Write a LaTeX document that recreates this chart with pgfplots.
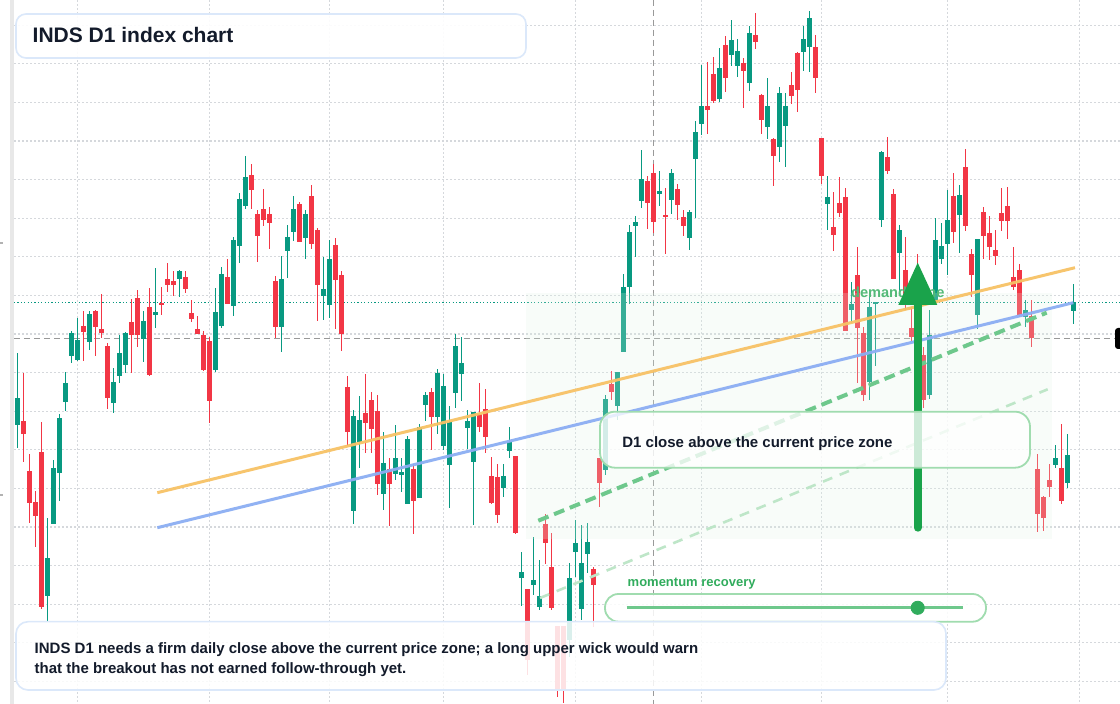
\documentclass[border=0pt]{standalone}
\usepackage{fontspec}
\setmainfont{Liberation Sans}
\usepackage{pgfplots}
\usepackage{pgfplotstable}
\pgfplotsset{compat=1.18}

\definecolor{up}{HTML}{089981}
\definecolor{dn}{HTML}{F23645}
\definecolor{gridc}{HTML}{D5D8DC}
\definecolor{ink}{HTML}{131B2B}
\definecolor{trendo}{HTML}{F7C266}
\definecolor{trendb}{HTML}{8CAEF3}
\definecolor{dashg}{HTML}{6EC88C}
\definecolor{dashl}{HTML}{BEE6C8}
\definecolor{arrowg}{HTML}{1AA34B}
\definecolor{boxg}{HTML}{A0DCAF}
\definecolor{boxb}{HTML}{DBE8FA}
\definecolor{zone}{HTML}{E1F5E8}

% candle tables, y read in pixels from the top (top/bot = body, hi/lo = wick)
\pgfplotstableread{
i top bot hi lo
0 398 424.7 353.3 447.7
5 558.3 595.7 518.3 621.7
6 468.3 524.3 460 524.3
7 418.3 472.7 414 500.7
8 383 401.7 372 410.7
9 332.7 355.7 331.3 362.7
10 340 360 318 361
12 314 341.7 310.7 350
16 382 403.3 368 412.7
17 353.3 375.7 335 383.3
18 332.7 364.7 332 373.3
21 321 338.7 311 362
23 312 314.7 268 328.3
27 270.7 278.7 270 296.7
33 312 369.7 288 372.3
34 274 325.7 266.7 328.3
36 239.7 305.7 236.7 315.7
37 199 245.7 192.7 262.7
38 177 205.7 155.7 208.7
44 279 326.7 256 351.7
45 237 250.7 225 277.7
46 209 231.7 196 240.7
48 214 237.7 210 258.7
51 289 295.7 256.7 319.7
52 259 304.7 239.7 317.7
56 416 511 410 524
57 420 441.7 396 467.7
61 463 493.7 432 509.7
63 458 474 425 479.7
64 472 474.7 458 491.7
65 439 503.7 436 503.7
67 427 497.7 424 497.7
68 395 404.7 392 420.7
70 373 416.7 369 433.7
71 386 445.7 374 449.7
72 422 464.7 406 507.7
73 346 392.7 334 407.7
74 363 373.7 337 400.7
75 421 427.7 410 448.7
76 412 461.7 412 524.7
81 476 487.7 463.7 496.7
82 442 450.7 427 457.7
84 571.7 577.7 551.7 605.7
86 579.7 584.7 536.7 594.7
87 595.7 606.7 559.7 609.7
92 577.7 640 562.7 656.7
93 543.3 551.7 520 576.7
94 562.7 608.7 524.7 619.7
95 542 553.7 522.7 572.7
98 399 469.7 395 474.7
100 372 406 372 420
101 287.3 351.7 274 351.7
102 232.3 287.3 225.3 304.3
103 222.3 225.7 216.3 256.7
104 179 200.7 150 207.7
107 191 193.7 171 205.7
109 173 199.7 169 213.7
112 212 237.7 210 249.7
113 132 158.7 121 217.7
114 106 123.7 65 134.7
117 68 98.7 48 101.7
119 40 54.7 20 65.7
120 51 65.7 39 76.7
122 33 82.7 26 90.7
125 106 126.7 78 138.7
127 93 146.7 87 161.7
128 106 125.7 93 166.7
131 39 51.7 26 70.7
132 18 46.7 11 71.7
135 197 203.7 176 229.7
139 303.7 309.7 282 322.7
142 307 381.7 297 399.7
143 301.7 303.5 301.7 365.7
144 152 219.7 151 226.7
147 230 252.7 225 294
152 335 394.7 310 398.7
153 240 301.7 218 301.7
154 246 258.7 223 263.7
155 220 243.7 190 274.7
157 195 214.7 185 252.7
160 239 314.7 239 328.7
168 310 316.7 300 326.7
173 458 464.7 445 467.7
175 455 482.7 434 487.7
176 302 310.7 284 323.7
}\upcandles

\pgfplotstableread{
i top bot hi lo
1 421 433.7 372.7 461.7
2 471 502.7 454.3 522.7
3 502.3 515.7 491 546.7
4 452.3 606.7 422.3 609.3
11 326 331.7 311 361
13 310.7 326.7 310 356
14 329.3 332.7 294 338.3
15 346 397.7 342.7 409
19 322 334.7 299 373.3
20 298 334.7 290 346.7
22 307 374.7 288 376
24 303.5 304.5 287 314.7
25 279 284.7 263 291.7
26 281 284.7 271 295.7
28 276.7 288.7 271 292.7
29 313 318.7 300 322
30 329 333.7 316 333.7
31 334.7 369.7 330.7 371
32 340.7 400.7 336.7 422.7
35 276.7 303.7 258.7 303.7
39 175 189.7 163.7 208.7
40 214 235.7 210 261.7
41 209 219.7 189 225.7
42 214 222.7 207 248.7
43 281 326.7 276 337.7
47 204 241.7 202 241.7
49 196 243.7 185 248.7
50 230 284.7 228 320.7
53 245 279.7 237.7 328.7
54 275 333.7 271 350.7
55 387 431.7 376 446
58 413 422.7 374 452.7
59 400 428.7 392 452.7
60 411 483.7 395 494.7
62 469 483.7 458 525.7
66 469 500.7 464 533.7
69 392 416.7 388 449.7
77 414 426.7 383 431.7
78 409 436.7 389 452.7
79 476 502.7 457 503.7
80 476.7 514.7 463.7 522.7
83 455.7 532.7 455.7 533.7
85 588.7 659.7 588.7 674.7
88 523.7 542.7 513.7 563.7
89 566.7 607.7 532.7 609.7
90 625.7 689.3 625.7 696.7
91 625.7 689.3 625.7 703
96 568.7 584.7 566.7 626.7
97 457.7 482.7 457.7 506.7
99 384 392 371 400
105 181 202.7 176 228.7
106 173 221.7 164 232.7
108 215 217 188 253.7
110 189 204.7 184 219.7
111 217 225.7 210 235.7
115 106 109.7 62 133.7
116 74 100.7 57 102.7
118 45 77.7 36 91.7
121 63 70.7 58 107.7
123 35 41.7 13 48.7
124 95 119.7 94 133.7
126 139 155.7 138 185.7
129 85 95.7 72 103.7
130 53 89.7 52 111.7
133 47 77.7 35 92.7
134 138 176.3 138 183.7
136 227 234.7 192 250.7
137 203 212.7 177 216.7
138 197 331 188.3 331
140 275 327.7 247 382.7
141 333 394.7 327 400.7
145 157 171 137 174
146 194 279 189 279
148 270 300 237 310
149 328 336.7 307 340.7
150 280 320 254 330
151 355 399.7 346.7 407.7
156 196 231.7 173 242.7
158 167 225.7 149 230.7
159 254 274.7 249 296.7
161 212 235.7 207 258.7
162 233 246.7 216 259.7
163 250 255.7 230 264.7
164 213 220.7 188 230.7
165 206 220.7 187 238.7
166 277 287 247 289.7
167 270 314.7 264 316.7
169 316 337.7 300 346.7
170 469 513.7 454 531.7
171 497 517.7 496 530.7
172 480 486.7 464 496.7
174 468 500.7 424 503.7
}\dncandles

\pgfplotsset{
  wick/.style={draw=none, mark=none, forget plot,
    error bars/.cd, y dir=both, y explicit, error mark=none,
    error bar style={line width=0.65pt, draw=#1}},
  body/.style={draw=none, mark=none, forget plot,
    error bars/.cd, y dir=both, y explicit, error mark=none,
    error bar style={line width=2.35pt, draw=#1}},
}
\tikzset{lbl/.style={anchor=base west, inner sep=0pt}}

\begin{document}
\begin{tikzpicture}
\begin{axis}[
  scale only axis, width=560pt, height=352pt,
  xmin=0, xmax=1120, ymin=0, ymax=704, y dir=reverse,
  hide axis,
]
\fill[white] (axis cs:0,0) rectangle (axis cs:1120,704);
\fill[black!9] (axis cs:10,0) rectangle (axis cs:14,704);
\draw[gray!60, line width=0.6pt] (axis cs:0,243) -- (axis cs:3,243);
\draw[gray!60, line width=0.6pt] (axis cs:0,495) -- (axis cs:3,495);

% grid
\pgfplotsinvokeforeach{0,...,17}{
  \draw[gridc, line width=0.6pt, dash pattern=on 0.8pt off 1.2pt]
    (axis cs:14,{25.2+38.6*#1}) -- (axis cs:1120,{25.2+38.6*#1});
}
\pgfplotsinvokeforeach{77.3,209.3,329.3,443.3,575.3,701.3,821.3,947.7,1079.3}{
  \draw[gridc, line width=0.6pt, dash pattern=on 0.8pt off 1.2pt]
    (axis cs:#1,0) -- (axis cs:#1,704);
}
\draw[black!40, line width=0.65pt, dash pattern=on 3pt off 2pt]
  (axis cs:653.3,0) -- (axis cs:653.3,704);
\draw[black!40, line width=0.65pt, dash pattern=on 3pt off 2pt]
  (axis cs:14,338.3) -- (axis cs:1120,338.3);
\draw[up, line width=0.7pt, dash pattern=on 0.6pt off 1.1pt]
  (axis cs:14,302.3) -- (axis cs:1120,302.3);

% candles
\addplot[wick=up] table[x expr=17.3+6*\thisrow{i}, y expr=(\thisrow{hi}+\thisrow{lo})/2, y error expr=(\thisrow{lo}-\thisrow{hi})/2] {\upcandles};
\addplot[body=up] table[x expr=17.3+6*\thisrow{i}, y expr=(\thisrow{top}+\thisrow{bot})/2, y error expr=(\thisrow{bot}-\thisrow{top})/2] {\upcandles};
\addplot[wick=dn] table[x expr=17.3+6*\thisrow{i}, y expr=(\thisrow{hi}+\thisrow{lo})/2, y error expr=(\thisrow{lo}-\thisrow{hi})/2] {\dncandles};
\addplot[body=dn] table[x expr=17.3+6*\thisrow{i}, y expr=(\thisrow{top}+\thisrow{bot})/2, y error expr=(\thisrow{bot}-\thisrow{top})/2] {\dncandles};

% demand zone
\fill[zone, opacity=0.22] (axis cs:526,293) rectangle (axis cs:1052,539);

% trend lines
\addplot[trendo, line width=1.5pt, opacity=0.95] coordinates {(157.3,492.7) (1075,267.7)};
\addplot[trendb, line width=1.5pt, opacity=0.95] coordinates {(157.3,527.7) (1073.3,302.7)};
\addplot[dashg, line width=2pt, dash pattern=on 5.5pt off 3pt] coordinates {(538.3,520.7) (1046.7,312.7)};
\addplot[dashl, line width=1.3pt, dash pattern=on 5pt off 4pt] coordinates {(540,598) (1047.7,389.3)};

% demand zone label and arrow
\node[lbl, text=arrowg!75, font=\fontsize{7.3}{8}\selectfont\bfseries]
  at (axis cs:850.7,297.3) {demand zone};
\addplot[arrowg, line width=4pt, line cap=round] coordinates {(917.7,527.7) (917.7,300)};
\fill[arrowg] (axis cs:898.3,305) -- (axis cs:917.7,262.7) -- (axis cs:937.3,305) -- cycle;

% D1 box
\draw[boxg, line width=0.9pt, fill=white, fill opacity=0.78, rounded corners=7.5pt]
  (axis cs:600,411.7) rectangle (axis cs:1030,467.7);
\node[lbl, text=ink, font=\fontsize{7.5}{9}\selectfont\bfseries]
  at (axis cs:622,447.3) {D1 close above the current price zone};

% momentum slider
\node[lbl, text=arrowg!90!white, font=\fontsize{6.5}{8}\selectfont\bfseries]
  at (axis cs:627.3,586.7) {momentum recovery};
\draw[boxg, line width=0.9pt, fill=white, fill opacity=0.85, rounded corners=6.7pt]
  (axis cs:605,594) rectangle (axis cs:986,621.7);
\addplot[dashg, line width=1.4pt] coordinates {(626.7,607.8) (962.7,607.8)};
\addplot[only marks, mark=*, mark size=3.3pt, color=arrowg!90!white] coordinates {(917.7,607.8)};

% bottom note
\draw[boxb, line width=0.8pt, fill=white, fill opacity=0.85, rounded corners=6pt]
  (axis cs:16,621.7) rectangle (axis cs:946,690);
\node[lbl, text=ink, font=\fontsize{7.5}{9}\selectfont\bfseries]
  at (axis cs:34.3,653.3) {INDS D1 needs a firm daily close above the current price zone; a long upper wick would warn};
\node[lbl, text=ink, font=\fontsize{7.5}{9}\selectfont\bfseries]
  at (axis cs:34.3,673.3) {that the breakout has not earned follow-through yet.};

% title
\draw[boxb, line width=0.8pt, fill=white, fill opacity=0.92, rounded corners=5pt]
  (axis cs:16,14) rectangle (axis cs:526,58);
\node[lbl, text=ink, font=\fontsize{10.5}{12}\selectfont\bfseries]
  at (axis cs:32.3,42.7) {INDS D1 index chart};

% price tag at the right edge
\fill[black, rounded corners=1.5pt] (axis cs:1115,328) rectangle (axis cs:1140,349);
\end{axis}
\pgfresetboundingbox
\path[use as bounding box] (0,0) rectangle (560pt,352pt);
\end{tikzpicture}
\end{document}
